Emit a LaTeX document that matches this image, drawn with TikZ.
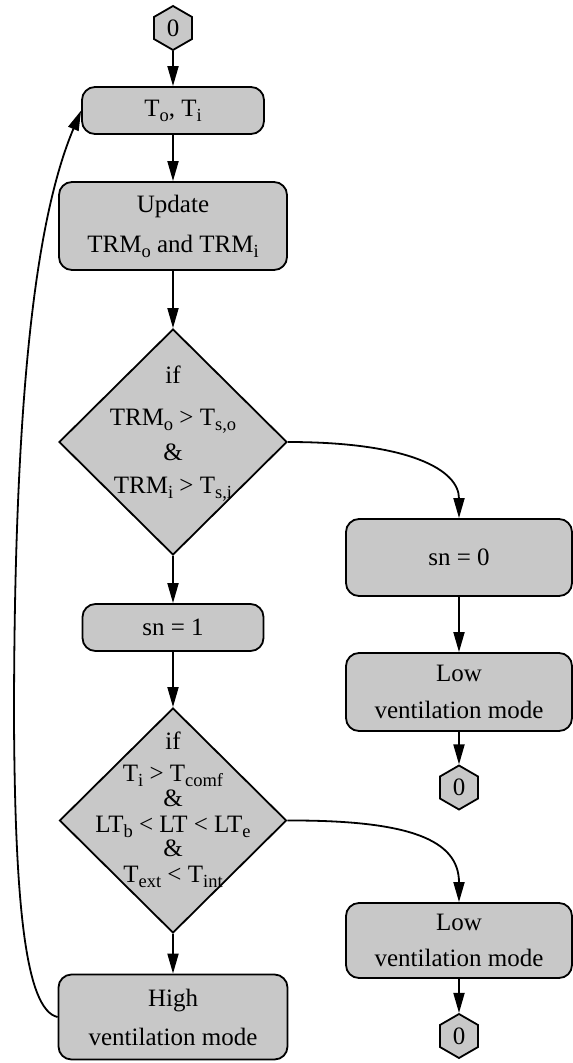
\documentclass[tikz,border=0pt]{standalone}
\usepackage{fontspec}
\setmainfont{Liberation Serif}
\usetikzlibrary{shapes.geometric,arrows.meta}
\definecolor{boxgray}{RGB}{200,200,200}
\newcommand{\lsub}[1]{\raisebox{-5pt}{\fontsize{18.5}{18.5}\selectfont #1}}
\begin{document}
\begin{tikzpicture}[x=1pt,y=-1pt,
  every node/.style={font=\fontsize{25}{30}\selectfont},
  proc/.style={draw, line width=1.8pt, fill=boxgray, rounded corners=13pt, rectangle, inner sep=0pt, align=center},
  dec/.style={draw, line width=1.8pt, fill=boxgray, diamond, inner sep=0pt},
  hexa/.style={draw, line width=1.8pt, fill=boxgray, regular polygon, regular polygon sides=6, shape border rotate=30, minimum size=44pt, inner sep=0pt},
  arr/.style={line width=1.8pt, -{Triangle[length=20pt,width=11pt]}},
  lbl/.style={align=center, inner sep=0pt}]
\useasboundingbox (0,0) rectangle (573,1063);

\node[hexa] (h0) at (173,28) {0};
\node[proc, minimum width=182pt, minimum height=47pt] (tin) at (173,110.5) {T\lsub{o}, T\lsub{i}};
\node[proc, minimum width=228pt, minimum height=88pt] (upd) at (173,226) {Update\\[10pt]TRM\lsub{o} and TRM\lsub{i}};
\node[dec, minimum width=228pt, minimum height=226pt] (d1) at (173,442) {};
\node[lbl] (d1t) at (173,434) {if\\[12pt]TRM\lsub{o} > T\lsub{s,o}\\[5pt]\&\\[3pt]TRM\lsub{i} > T\lsub{s,i}};
\node[proc, minimum width=181pt, minimum height=47pt] (sn1) at (173,627.5) {sn = 1};
\node[dec, minimum width=227pt, minimum height=225pt] (d2) at (173,820.5) {};
\node[lbl, font=\fontsize{25}{25}\selectfont] (d2t) at (173,810) {if\\[7pt]T\lsub{i} > T\lsub{comf}\\[0pt]\&\\[1pt]LT\lsub{b} < LT < LT\lsub{e}\\[-1pt]\&\\[1pt]T\lsub{ext} < T\lsub{int}};
\node[proc, minimum width=229pt, minimum height=85pt] (high) at (173,1017) {High\\[9pt]ventilation mode};

\node[proc, minimum width=226pt, minimum height=77pt] (sn0) at (459,557.5) {sn = 0};
\node[proc, minimum width=226pt, minimum height=78pt] (low1) at (459,692) {Low\\[7pt]ventilation mode};
\node[hexa] (h1) at (459,787.5) {0};
\node[proc, minimum width=226pt, minimum height=75pt] (low2) at (459,940.5) {Low\\[6pt]ventilation mode};
\node[hexa] (h2) at (459,1036) {0};

\draw[arr] (h0) -- (tin);
\draw[arr] (tin) -- (upd);
\draw[arr] (upd) -- (d1);
\draw[arr] (d1) -- (sn1);
\draw[arr] (sn1) -- (d2);
\draw[arr] (d2) -- (high);
\draw[arr] (sn0) -- (low1);
\draw[arr] (low1) -- (h1);
\draw[arr] (low2) -- (h2);
\draw[arr] (d1.east) .. controls (410,442) and (459,470) .. (sn0.north);
\draw[arr] (d2.east) .. controls (410,820) and (459,840) .. (low2.north);
\draw[arr] (high.west) .. controls (25,1010) and (15,900) .. (14,720) .. controls (14,400) and (35,220) .. (tin.west);
\end{tikzpicture}
\end{document}
